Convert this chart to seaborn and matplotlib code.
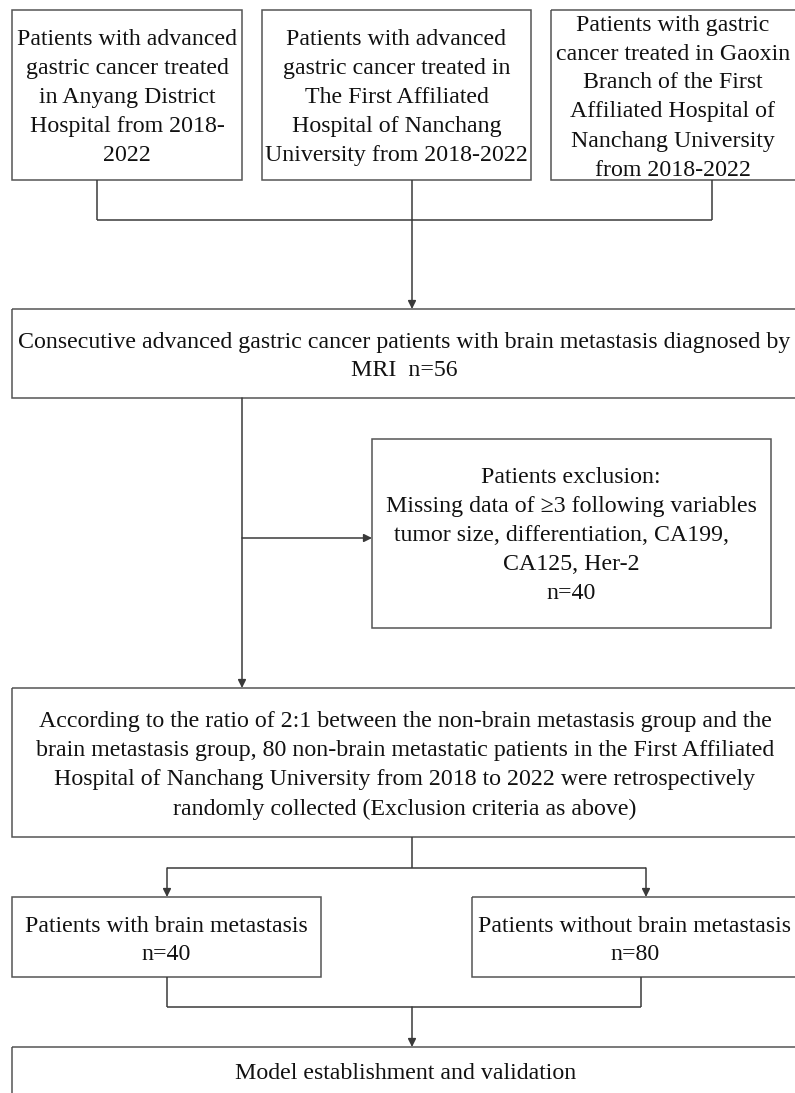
#Flowchart of patient selection for the brain metastasis model.
import matplotlib
matplotlib.use('Agg')
import matplotlib.pyplot as plt
from matplotlib.patches import Rectangle
import seaborn as sns

# texts of the boxes
source_texts = [
    "Patients with advanced\ngastric cancer treated\nin Anyang District\nHospital from 2018-\n2022",
    "Patients with advanced\ngastric cancer treated in\nThe First Affiliated\nHospital of Nanchang\nUniversity from 2018-2022",
    "Patients with gastric\ncancer treated in Gaoxin\nBranch of the First\nAffiliated Hospital of\nNanchang University\nfrom 2018-2022",
]
n_total = 56
n_excluded = 40
n_brain = 40
n_no_brain = 80
years = (2018, 2022)

cohort_text = ("Consecutive advanced gastric cancer patients with brain metastasis diagnosed by\n"
               f"MRI  n={n_total}")
exclusion_text = ("Patients exclusion:\nMissing data of \u22653 following variables\n"
                  "tumor size, differentiation, CA199,   \nCA125, Her-2\n"
                  f"n={n_excluded}")
control_text = ("According to the ratio of 2:1 between the non-brain metastasis group and the\n"
                f"brain metastasis group, {n_no_brain} non-brain metastatic patients in the First Affiliated\n"
                f"Hospital of Nanchang University from {years[0]} to {years[1]} were retrospectively\n"
                "randomly collected (Exclusion criteria as above)")
group_texts = [f"Patients with brain metastasis\nn={n_brain}",
               f"Patients without brain metastasis\nn={n_no_brain}"]
final_text = "Model establishment and validation"

# layout in pixels: x0, y0, x1, y1 (y from top)
layout = {
    "src1": (12, 10, 242, 180),
    "src2": (262, 10, 531, 180),
    "src3": (551, 10, 797, 180),
    "cohort": (12, 309, 797, 398),
    "excl": (372, 439, 771, 628),
    "control": (12, 688, 797, 837),
    "grp1": (12, 897, 321, 977),
    "grp2": (472, 897, 798, 977),
    "final": (12, 1047, 797, 1120),
}

sns.set_theme(style="white")
plt.rcParams['font.family'] = ['Liberation Serif', 'DejaVu Serif']

W, H = 795, 1093
fig = plt.figure(figsize=(W / 100, H / 100), dpi=100)
ax = fig.add_axes([0, 0, 1, 1])
ax.set_xlim(0, W)
ax.set_ylim(H, 0)
ax.axis('off')

line_col = '#3a3a3a'
box_col = '#555555'
txt_col = '#111111'
fs = 17.2


def box(key, text, cx=None, cy=None, size=fs, spacing=1.5):
    x0, y0, x1, y1 = layout[key]
    ax.add_patch(Rectangle((x0, y0), x1 - x0, y1 - y0, fill=False,
                           edgecolor=box_col, linewidth=1.1))
    if cx is None:
        cx = (x0 + x1) / 2
    if cy is None:
        cy = (y0 + y1) / 2
    ax.text(cx, cy + 2.5, text, ha='center', va='center', multialignment='center',
            fontsize=size, color=txt_col, linespacing=spacing)


def line(xs, ys):
    ax.plot(xs, ys, color=line_col, linewidth=1.1, solid_capstyle='butt')


def arrow(x0, y0, x1, y1):
    ax.annotate("", xy=(x1, y1), xytext=(x0, y0),
                arrowprops=dict(arrowstyle='-|>', color=line_col, lw=1.1,
                                mutation_scale=12, shrinkA=0, shrinkB=0))


box("src1", source_texts[0])
box("src2", source_texts[1])
box("src3", source_texts[2], cx=673)
box("cohort", cohort_text, cx=404, cy=354, spacing=1.43)
box("excl", exclusion_text, cx=571, cy=533)
box("control", control_text, cx=405, cy=763)
box("grp1", group_texts[0], cy=938)
box("grp2", group_texts[1], cx=635, cy=938)
box("final", final_text, cx=406, cy=1071)

# top connectors
for x in (97, 412, 712):
    line([x, x], [180, 220])
line([97, 712], [220, 220])
arrow(412, 220, 412, 309)

# cohort -> control with exclusion branch
arrow(242, 398, 242, 688)
arrow(242, 538, 372, 538)

# split into two groups
line([412, 412], [837, 868])
line([167, 646], [868, 868])
arrow(167, 868, 167, 897)
arrow(646, 868, 646, 897)

# merge into model box
line([167, 167], [977, 1007])
line([641, 641], [977, 1007])
line([167, 641], [1007, 1007])
arrow(412, 1007, 412, 1047)

plt.savefig("out.png", dpi=100, facecolor='white')
